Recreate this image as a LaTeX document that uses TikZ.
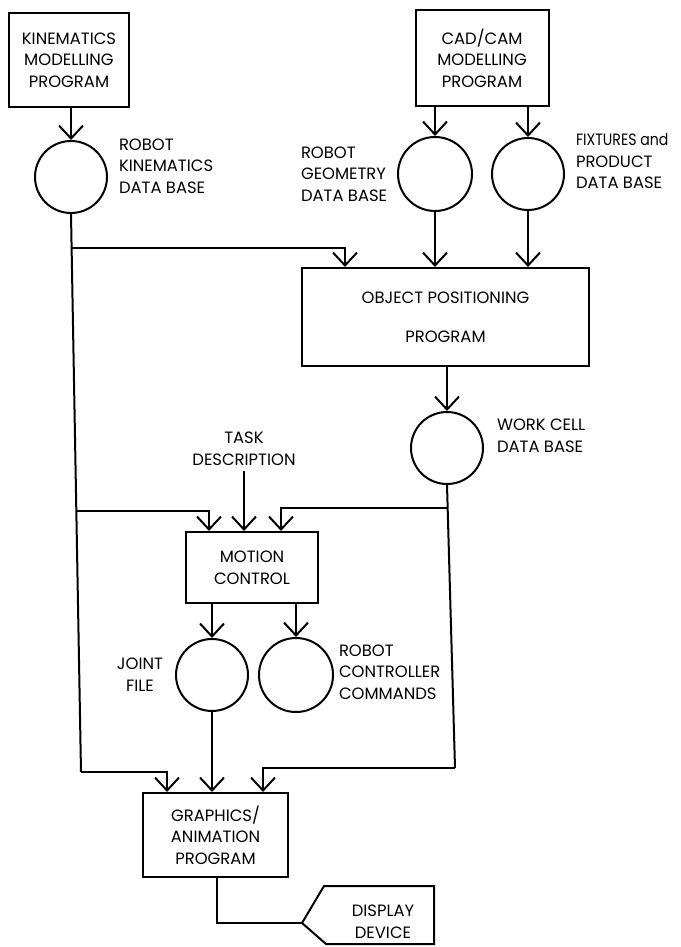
\documentclass[tikz,border=0pt]{standalone}
\usepackage{fontspec}
\setmainfont{Poppins}
\usetikzlibrary{arrows.meta}
\newcommand{\lblfont}{\fontsize{8.2}{10.8}\selectfont}
\begin{document}
\begin{tikzpicture}[x=0.5pt,y=-0.5pt,line width=1pt,
  box/.style={draw, rectangle, inner sep=0pt, align=center, font=\lblfont},
  db/.style={draw, circle, inner sep=0pt, minimum size=36pt},
  lbl/.style={align=left, inner sep=0pt, font=\lblfont},
  clbl/.style={align=center, inner sep=0pt, font=\lblfont},
  arr/.style={-{Straight Barb[length=6.5pt,width=12pt]}}]
\useasboundingbox (0,0) rectangle (680,947);
% top row
\node[box, minimum width=60pt, minimum height=47pt] (kmp) at (69,60) {KINEMATICS\\MODELLING\\PROGRAM};
\node[box, minimum width=66.5pt, minimum height=48pt] (cad) at (482,58) {CAD/CAM\\MODELLING\\PROGRAM};
% data bases
\node[db] (kdb) at (71,177) {};
\node[lbl, anchor=west] (kdbl) at (118,166) {ROBOT\\KINEMATICS\\DATA BASE};
\node[db, minimum size=37pt] (rgdb) at (435,174) {};
\node[lbl, anchor=west] (rgl) at (300,174) {ROBOT\\GEOMETRY\\DATA BASE};
\node[db] (fpdb) at (528,174) {};
\node[lbl, anchor=west] (fpl) at (575,161) {\scalebox{0.86}[1]{FIXTURES and}\\PRODUCT\\DATA BASE};
% object positioning
\node[box, minimum width=143.5pt, minimum height=49pt] (opp) at (445.5,317) {OBJECT POSITIONING\\[8.5pt]PROGRAM};
\node[db] (wcdb) at (447,448) {};
\node[lbl, anchor=west] (wcl) at (496,435.5) {WORK CELL\\DATA BASE};
% motion control
\node[clbl] (task) at (244,449) {TASK\\DESCRIPTION};
\node[box, minimum width=66pt, minimum height=35.5pt] (mc) at (252,567.5) {MOTION\\CONTROL};
\node[db] (jf) at (212,675) {};
\node[clbl] (jfl) at (140,675) {JOINT\\FILE};
\node[db, minimum size=37pt] (rcc) at (296,675) {};
\node[lbl, anchor=west] (rccl) at (338,672) {ROBOT\\CONTROLLER\\COMMANDS};
% graphics
\node[box, minimum width=72.5pt, minimum height=42pt] (gap) at (215.5,835) {GRAPHICS/\\ANIMATION\\PROGRAM};
% display device
\coordinate (ddtip) at (302,923);
\coordinate (ddtl) at (324,886);
\coordinate (ddtr) at (434,886);
\coordinate (ddbr) at (434,944);
\coordinate (ddbl) at (326,944);
\draw (ddtip) -- (ddtl) -- (ddtr) -- (ddbr) -- (ddbl) -- cycle;
\node[clbl] (ddl) at (383,921.5) {DISPLAY\\DEVICE};
% junction coordinates
\coordinate (lb) at (81,772);
\coordinate (b1) at (71.6,248);
\coordinate (b1e) at (345,248);
\coordinate (b2) at (76.3,511);
\coordinate (b2e) at (209,511);
\coordinate (rb) at (455,768);
\coordinate (b3) at (447.7,508);
\coordinate (b3e) at (281,508);
\coordinate (lbe) at (167,772);
\coordinate (rbe) at (263,768);
\coordinate (gbot) at (217,923);
% connectors
\draw[arr] (kmp.south -| kdb) -- (kdb.north);
\draw[arr] (cad.south -| rgdb) -- (rgdb.north);
\draw[arr] (cad.south -| fpdb) -- (fpdb.north);
\draw[arr] (rgdb.south) -- (rgdb.south |- opp.north);
\draw[arr] (fpdb.south) -- (fpdb.south |- opp.north);
\draw (kdb.south) -- (lb);
\draw[arr] (b1) -- (b1e) -- (b1e |- opp.north);
\draw[arr] (opp.south -| wcdb) -- (wcdb.north);
\draw (wcdb.south) -- (rb);
\draw[arr] (b2) -- (b2e) -- (b2e |- mc.north);
\draw[arr] (task.south) ++(0,4) -- (task.south |- mc.north);
\draw[arr] (b3) -- (b3e) -- (b3e |- mc.north);
\draw[arr] (mc.south -| jf) -- (jf.north);
\draw[arr] (mc.south -| rcc) -- (rcc.north);
\draw[arr] (jf.south) -- (jf.south |- gap.north);
\draw[arr] (lb) -- (lbe) -- (lbe |- gap.north);
\draw[arr] (rb) -- (rbe) -- (rbe |- gap.north);
\draw (gap.south -| gbot) -- (gbot) -- (ddtip);
\end{tikzpicture}
\end{document}
